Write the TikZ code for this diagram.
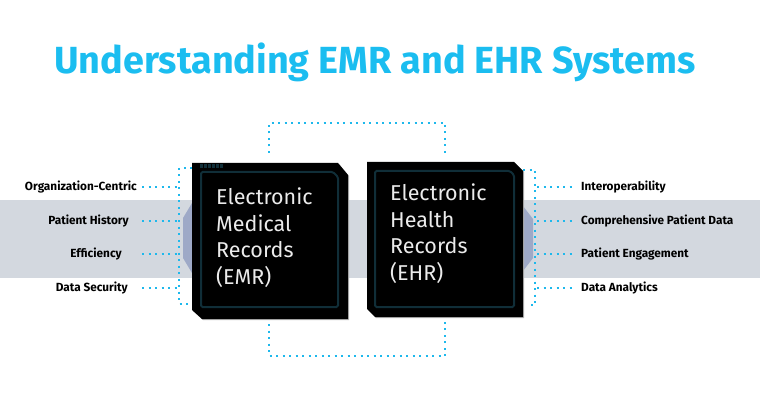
\documentclass[tikz,border=0pt]{standalone}
\usepackage{fontspec}
\setmainfont{Fira Sans}
\usetikzlibrary{positioning,calc}
\definecolor{titlecolor}{RGB}{27,189,240}
\definecolor{dotcolor}{RGB}{30,184,236}
\definecolor{bandcolor}{RGB}{211,216,223}
\definecolor{tabcolor}{RGB}{158,169,199}
\definecolor{rimcolor}{RGB}{16,46,56}

\begin{document}
\begin{tikzpicture}[x=1pt,y=-1pt,
  chip/.style={fill=black},
  shade/.style={fill=gray!55},
  rim/.style={draw=rimcolor,line width=2pt,rounded corners=1.5pt},
  chiptext/.style={anchor=north west,align=left,text=white!92!black,inner sep=0pt,
                   font=\fontsize{21.5}{26.4}\selectfont},
  lbl/.style={font=\bfseries\fontsize{11.8}{13}\selectfont,inner sep=0pt},
  dots/.style={dotcolor,line width=2pt,dash pattern=on 2pt off 4.5pt}
]
\useasboundingbox (0,0) rectangle (760,406);
\node[font=\bfseries\fontsize{37.8}{40}\selectfont,text=titlecolor] (title) at (375,62) {Understanding EMR and EHR Systems};
% band and side tabs
\fill[bandcolor] (0,200) rectangle (760,278);
\fill[tabcolor] (192,203) -- (183,218) -- (183,258) -- (192,273) -- cycle;
\fill[tabcolor] (523,206) -- (533,219) -- (533,258) -- (523,271) -- cycle;
% chips
\fill[shade] (193,164) -- (339,164) -- (349,176) -- (349,320) -- (203,320) -- (193,311) -- cycle;
\fill[chip] (192,163) -- (338,163) -- (348,175) -- (348,319) -- (202,319) -- (192,310) -- cycle;
\draw[rim] (201,172) -- (333,172) -- (338,177) -- (338,307) -- (201,307) -- cycle;
\foreach \i in {0,...,5}
  \fill[rimcolor] (200+\i*3.9,164) rectangle ++(3.3,4);
\fill[shade] (368,163) -- (515,163) -- (524,172) -- (524,318) -- (376,318) -- (368,310) -- cycle;
\fill[chip] (367,162) -- (514,162) -- (523,171) -- (523,317) -- (375,317) -- (367,309) -- cycle;
\draw[rim] (375,171) -- (510,171) -- (514,175) -- (514,307) -- (375,307) -- cycle;
\node[chiptext] (emr) at (216,188) {Electronic\\Medical\\Records\\(EMR)};
\node[chiptext] (ehr) at (390,184) {Electronic\\Health\\Records\\(EHR)};
% dotted links between the chips
\coordinate (t1) at (269,153); \coordinate (t2) at (445,153);
\coordinate (b1) at (269,324); \coordinate (b2) at (445,322);
\draw[dots] (t1) -- ++(0,-30) -| (t2);
\draw[dots] (b1) -- ++(0,32) -| (b2);
% left labels
\node[lbl,anchor=east] (org) at (137,187) {Organization-Centric};
\node[lbl,anchor=east] (hist) at (129,221) {Patient History};
\node[lbl,anchor=east] (eff) at (122,254) {Efficiency};
\node[lbl,anchor=east] (sec) at (128,288) {Data Security};
\coordinate (ltop) at (192,168); \coordinate (lbot) at (192,304);
\draw[dots] (ltop) -- ++(-13,0) -- ++(0,136) -- (lbot);
\foreach \n in {org,hist,eff,sec}
  \draw[dots] (\n.east -| 142,0) -- (\n.east -| 179,0);
% right labels
\node[lbl,anchor=west] (inter) at (581,187) {Interoperability};
\node[lbl,anchor=west] (comp) at (581,221) {Comprehensive Patient Data};
\node[lbl,anchor=west] (eng) at (581,254) {Patient Engagement};
\node[lbl,anchor=west] (ana) at (581,288) {Data Analytics};
\coordinate (rtop) at (523,170); \coordinate (rbot) at (529,305);
\draw[dots] (rtop) -- ++(12,0) -- ++(0,135) -- (rbot);
\foreach \n in {inter,comp,eng,ana}
  \draw[dots] (\n.west -| 537,0) -- (\n.west -| 576,0);
\end{tikzpicture}
\end{document}
